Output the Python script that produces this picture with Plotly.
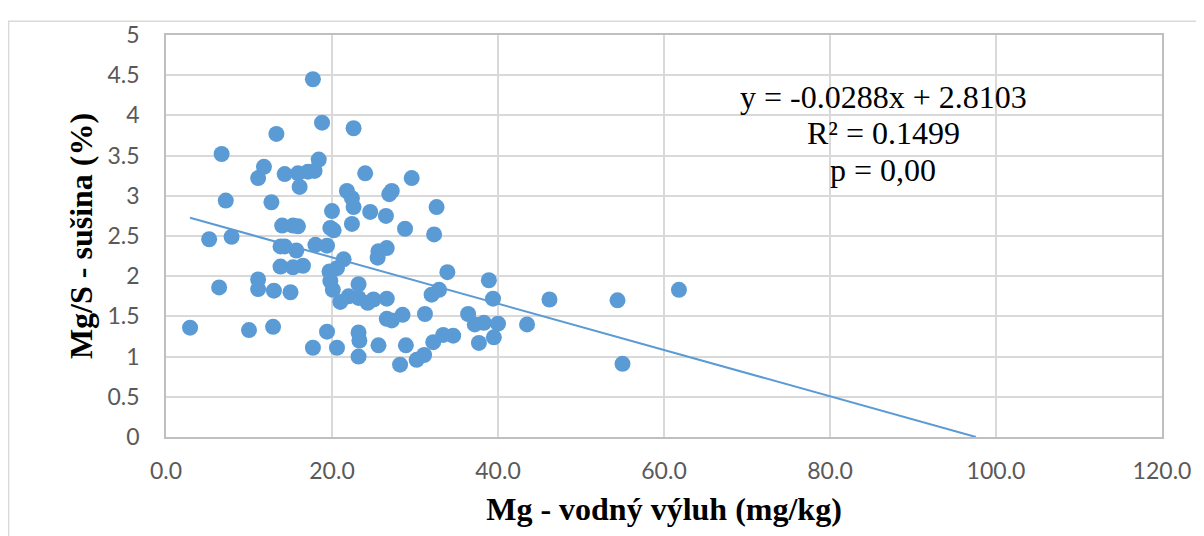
import plotly.graph_objects as go

# Data
mg_water = [2.9, 5.2, 6.7, 6.4, 7.2, 7.9, 10.0, 11.1, 11.8, 11.1, 11.1, 12.7, 12.9, 13.0, 13.3,
            14.0, 13.8, 13.8, 14.3, 14.3, 15.0, 15.3, 15.3, 15.9, 15.7, 16.1, 15.9, 16.5, 17.1,
            17.7, 17.9, 17.7, 18.4, 18.0, 18.8, 19.4, 19.4, 19.7, 20.0, 19.8, 19.8, 20.1, 20.2,
            20.6, 20.6, 21.0, 21.4, 21.8, 22.0, 22.4, 22.6, 22.4, 22.6, 23.2, 23.2, 23.2, 23.2,
            23.3, 24.0, 24.3, 24.6, 25.0, 25.5, 25.6, 25.6, 26.5, 26.6, 26.6, 26.6, 26.9, 27.2,
            27.2, 28.2, 28.5, 28.8, 28.9, 29.6, 30.2, 31.1, 31.2, 32.0, 32.3, 32.2, 32.6, 32.9,
            33.4, 33.9, 34.6, 36.4, 37.2, 37.7, 38.3, 38.9, 39.4, 39.5, 40.0, 43.5, 46.2, 54.4,
            55.0, 61.8]
mg_s = [1.36, 2.46, 3.52, 1.86, 2.94, 2.49, 1.33, 3.22, 3.36, 1.96, 1.84, 2.92, 1.37, 1.82, 3.77,
        2.63, 2.37, 2.12, 3.27, 2.37, 1.80, 2.63, 2.11, 2.62, 2.32, 3.11, 3.28, 2.13, 3.30,
        4.45, 3.31, 1.11, 3.45, 2.39, 3.91, 2.38, 1.31, 2.06, 2.81, 2.60, 1.94, 1.83, 2.57,
        1.11, 2.10, 1.68, 2.21, 3.06, 1.75, 2.97, 3.84, 2.65, 2.86, 1.90, 1.73, 1.30, 1.00,
        1.20, 3.28, 1.67, 2.80, 1.71, 2.23, 1.14, 2.31, 2.75, 2.35, 1.72, 1.47, 3.02, 1.45,
        3.06, 0.90, 1.52, 2.59, 1.14, 3.22, 0.96, 1.02, 1.53, 1.77, 2.52, 1.18, 2.86, 1.83,
        1.27, 2.05, 1.26, 1.53, 1.40, 1.17, 1.42, 1.95, 1.72, 1.24, 1.41, 1.40, 1.71, 1.70,
        0.91, 1.83]

trend_slope = -0.0288
trend_intercept = 2.8103
stats_lines = ["y = -0.0288x + 2.8103", "R² = 0.1499", "p = 0,00"]

x_title = "Mg - vodný výluh (mg/kg)"
y_title = "Mg/S - sušina (%)"

blue = "#5B9BD5"
grid = "#D9D9D9"
tick_font = dict(family="Lato", size=23, color="#595959")
title_font = dict(family="Liberation Serif", size=32, color="#000000")

trend_x = [min(mg_water), -trend_intercept / trend_slope]
trend_y = [trend_slope * v + trend_intercept for v in trend_x]

fig = go.Figure()
fig.add_trace(go.Scatter(x=mg_water, y=mg_s, mode="markers",
                         marker=dict(color=blue, size=16, line=dict(width=0)),
                         showlegend=False, cliponaxis=False))
fig.add_trace(go.Scatter(x=trend_x, y=trend_y, mode="lines",
                         line=dict(color=blue, width=2), showlegend=False))

fig.update_layout(
    width=1196, height=528,
    margin=dict(l=158, r=42, t=19, b=99),
    paper_bgcolor="white", plot_bgcolor="white",
    font=dict(family="Lato"),
)
fig.update_xaxes(
    range=[0, 120], dtick=20, tick0=0, tickformat=".1f",
    showgrid=True, gridcolor=grid, gridwidth=1.5,
    showline=True, linecolor="#BFBFBF", linewidth=1.5, mirror=True,
    zeroline=False, ticks="", tickfont=tick_font, ticklabelstandoff=13,
    title=dict(text="<b>" + x_title + "</b>", font=title_font, standoff=14),
)
fig.update_yaxes(
    range=[0, 5], dtick=0.5, tick0=0,
    showgrid=True, gridcolor=grid, gridwidth=1.5,
    showline=True, linecolor="#BFBFBF", linewidth=1.5, mirror=True,
    zeroline=False, ticks="", tickfont=tick_font, ticklabelstandoff=20,
    title=dict(text="<b>" + y_title + "</b>", font=title_font, standoff=5),
)

# statistics text
stat_y = [0.845, 0.755, 0.665]
for txt, yy in zip(stats_lines, stat_y):
    fig.add_annotation(text=txt, xref="paper", yref="paper", x=0.72, y=yy,
                       xanchor="center", yanchor="middle", showarrow=False,
                       font=dict(family="Liberation Serif", size=32, color="#000000"))

# outer chart border
fig.add_shape(type="rect", xref="paper", yref="paper",
              x0=-0.1580, x1=1.05, y0=-0.25, y1=1.034,
              line=dict(color="#D9D9D9", width=1.5), fillcolor="rgba(0,0,0,0)", layer="below")

fig.write_html("out.html")
